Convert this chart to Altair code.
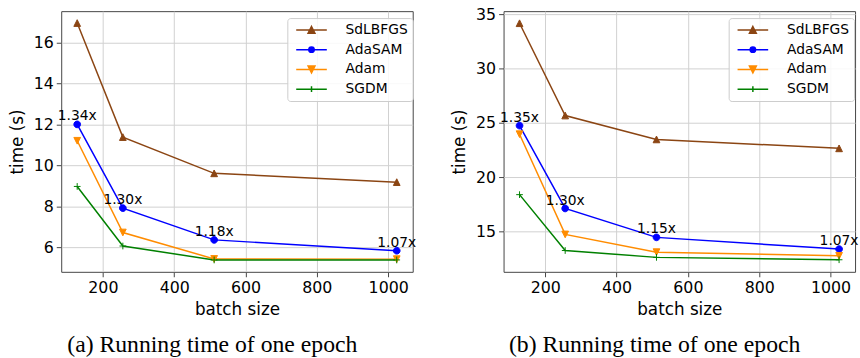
import altair as alt
import pandas as pd

# ---------------- data ----------------
batch_sizes = [128, 256, 512, 1024]
methods = ["SdLBFGS", "AdaSAM", "Adam", "SGDM"]
colors = ["#8b4513", "#0000ff", "#ff8c00", "#008000"]

# panel (a)
a_sdlbfgs = [16.95, 11.38, 9.61, 9.18]
a_adasam = [12.0, 7.91, 6.36, 5.83]
a_adam = [11.2, 6.72, 5.43, 5.42]
a_sgdm = [8.97, 6.06, 5.38, 5.38]
a_speedup = ["1.34x", "1.30x", "1.18x", "1.07x"]

# panel (b)
b_sdlbfgs = [34.18, 25.69, 23.49, 22.67]
b_adasam = [24.76, 17.14, 14.48, 13.40]
b_adam = [23.97, 14.75, 13.12, 12.78]
b_sgdm = [18.41, 13.27, 12.64, 12.42]
b_speedup = ["1.35x", "1.30x", "1.15x", "1.07x"]

x_ticks = [200, 400, 600, 800, 1000]
a_y_ticks = [6, 8, 10, 12, 14, 16]
b_y_ticks = [15, 20, 25, 30, 35]
captions = ["(a) Running time of one epoch", "(b) Running time of one epoch"]

# marker shapes (plot) and legend symbols (line + marker)
marker_paths = [
    "M0,-1L1,1L-1,1Z",
    "M1,0A1,1,0,1,1,-1,0A1,1,0,1,1,1,0Z",
    "M0,1L1,-1L-1,-1Z",
    "M-1,0H1M0,-1V1",
]
legend_paths = [
    "M-0.6,0H5.6M2.5,-0.7L3.2,0.7L1.8,0.7Z",
    "M-0.6,0H5.6M3.05,0A0.55,0.55,0,1,1,1.95,0A0.55,0.55,0,1,1,3.05,0Z",
    "M-0.6,0H5.6M2.5,0.7L3.2,-0.7L1.8,-0.7Z",
    "M-0.6,0H5.6M2.5,-0.6V0.6",
]


def long_frame(series):
    rows = []
    for m, vals in zip(methods, series):
        for b, v in zip(batch_sizes, vals):
            rows.append({"method": m, "batch": b, "time": v})
    return pd.DataFrame(rows)


def panel(series, speedups, y_domain, y_ticks, caption, legend_x):
    df = long_frame(series)
    ann = pd.DataFrame({"batch": batch_sizes, "time": series[1], "label": speedups})

    x = alt.X("batch:Q", scale=alt.Scale(domain=[83.2, 1068.8], nice=False, zero=False),
              axis=alt.Axis(values=x_ticks, format="d", title="batch size", titlePadding=6))
    y = alt.Y("time:Q", scale=alt.Scale(domain=y_domain, nice=False, zero=False),
              axis=alt.Axis(values=y_ticks, title="time (s)", titlePadding=7))

    def cscale():
        return alt.Scale(domain=methods, range=colors)

    lines = alt.Chart(df).mark_line(strokeWidth=1.5).encode(
        x=x, y=y,
        color=alt.Color("method:N", scale=cscale(), legend=None),
        detail="method:N",
        order=alt.Order("batch:Q"),
    )
    points = alt.Chart(df).mark_point(filled=True, size=46, strokeWidth=1, opacity=1).encode(
        x=x, y=y,
        fill=alt.Fill("method:N", scale=cscale(), legend=None),
        stroke=alt.Stroke("method:N", scale=cscale(), legend=None),
        shape=alt.Shape("method:N", scale=alt.Scale(domain=methods, range=marker_paths), legend=None),
    )
    leg = alt.Legend(orient="none", legendX=legend_x, legendY=7, symbolSize=100,
                     symbolStrokeWidth=1.5, symbolOffset=0, symbolOpacity=1,
                     labelOffset=40, labelFontSize=14, columnPadding=0,
                     labelFont="DejaVu Sans", labelColor="black",
                     rowPadding=6, padding=5, strokeColor="#cccccc",
                     fillColor="rgba(255,255,255,0.85)", cornerRadius=3)
    legend_layer = alt.Chart(df).transform_filter("datum.batch < 0").mark_point(filled=True, opacity=1).encode(
        x=x, y=y,
        fill=alt.Fill("method:N", scale=cscale(), title=None, legend=leg),
        stroke=alt.Stroke("method:N", scale=cscale(), title=None, legend=leg),
        shape=alt.Shape("method:N", scale=alt.Scale(domain=methods, range=legend_paths),
                        title=None, legend=leg),
    )
    text = alt.Chart(ann).mark_text(fontSize=14, font="DejaVu Sans", color="black",
                                    align="center", baseline="alphabetic", dy=-4).encode(
        x=x, y=y, text="label:N"
    )
    return alt.layer(lines, points, legend_layer, text).resolve_scale(
        shape="independent", fill="independent", stroke="independent"
    ).properties(
        width=356, height=264,
        title=alt.TitleParams(caption, orient="bottom", font="Liberation Serif", fontSize=24,
                              fontWeight="normal", color="black", offset=16, anchor="middle",
                              dx=-25),
    )


left = panel([a_sdlbfgs, a_adasam, a_adam, a_sgdm], a_speedup, [4.8, 17.53], a_y_ticks, captions[0], 229)
right = panel([b_sdlbfgs, b_adasam, b_adam, b_sgdm], b_speedup, [11.31, 35.29], b_y_ticks, captions[1], 228)

chart = alt.hconcat(left, right, spacing=92, bounds="flush").resolve_scale(
    color="independent", fill="independent", stroke="independent", shape="independent"
).resolve_legend(color="independent", fill="independent", stroke="independent", shape="independent").properties(
    padding={"left": 8, "top": 3, "right": 0, "bottom": 0},
    background="white",
).configure_view(stroke="#444444", strokeWidth=1).configure_axis(
    labelFont="DejaVu Sans", labelFontSize=16, labelColor="black",
    titleFont="DejaVu Sans", titleFontSize=17, titleFontWeight="normal", titleColor="black",
    tickColor="#444444", tickSize=5, labelPadding=3, domain=False,
    gridColor="#d0d0d0", gridWidth=1,
).configure_legend(labelFontSize=14, symbolOpacity=1)

chart.save("out.html", embed_options={"renderer": "svg", "actions": False})
